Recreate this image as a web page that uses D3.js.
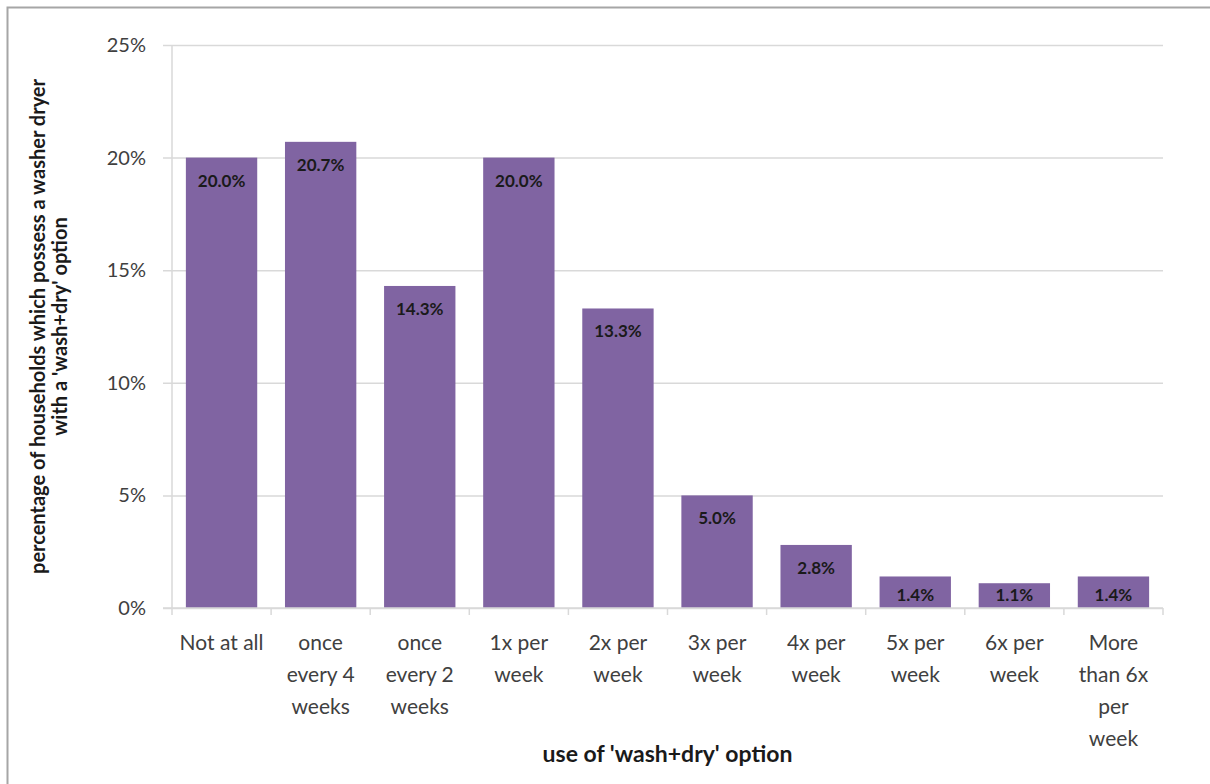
<!DOCTYPE html>
<html>
<head>
<meta charset="utf-8">
<script src="https://cdn.jsdelivr.net/npm/d3@7"></script>
<style>
  body { margin: 0; background: #fff; }
  svg { font-family: Lato, "Open Sans", sans-serif; }
</style>
</head>
<body>
<script>
// values
var categories = ["Not at all", "once every 4 weeks", "once every 2 weeks", "1x per week", "2x per week",
                  "3x per week", "4x per week", "5x per week", "6x per week", "More than 6x per week"];
var tickLines = [["Not at all"], ["once", "every 4", "weeks"], ["once", "every 2", "weeks"], ["1x per", "week"],
                 ["2x per", "week"], ["3x per", "week"], ["4x per", "week"], ["5x per", "week"],
                 ["6x per", "week"], ["More", "than 6x", "per", "week"]];
var values = [20.0, 20.7, 14.3, 20.0, 13.3, 5.0, 2.8, 1.4, 1.1, 1.4];
var yTicks = [0, 5, 10, 15, 20, 25];

var W = 1210, H = 784;
var margin = {top: 45, left: 172, right: 47, bottom: 176};
var width = W - margin.left - margin.right,
    height = H - margin.top - margin.bottom;

var svg = d3.select("body").append("svg")
    .attr("width", W)
    .attr("height", H);

// frame edges (the chart is cropped on the right and bottom)
svg.append("path")
    .attr("d", "M7.5,784 V7.5 H1210")
    .attr("fill", "none")
    .attr("stroke", "#a6a6a6")
    .attr("stroke-width", 2);

var g = svg.append("g")
    .attr("transform", `translate(${margin.left}, ${margin.top})`);

var x = d3.scaleBand().domain(categories).range([0, width]).paddingInner(0.28).paddingOuter(0.14);
var y = d3.scaleLinear().domain([0, 25]).range([height, 0]);

// gridlines + y labels
var yAxis = d3.axisLeft(y).tickValues(yTicks).tickSize(-width - 9).tickFormat(d => d + "%").tickPadding(17);
var gy = g.append("g")
    .attr("transform", "translate(-9,0)")
    .call(yAxis);
gy.select(".domain").remove();
gy.selectAll(".tick line").attr("stroke", "#d9d9d9").attr("stroke-width", 1.5);
gy.selectAll(".tick text")
    .attr("font-size", 20)
    .attr("fill", "#404040")
    .attr("font-family", "Lato, sans-serif");

// y axis line
g.append("line")
    .attr("x1", 0).attr("x2", 0)
    .attr("y1", 0).attr("y2", height)
    .attr("stroke", "#d9d9d9").attr("stroke-width", 1.5);

// bars
var bars = g.append("g").selectAll("g")
    .data(values)
    .enter().append("g");

bars.append("rect")
    .attr("x", (d, i) => x(categories[i]))
    .attr("y", d => y(d))
    .attr("width", x.bandwidth())
    .attr("height", d => height - y(d))
    .attr("fill", "#8064a2");

bars.append("text")
    .text(d => d.toFixed(1) + "%")
    .attr("x", (d, i) => x(categories[i]) + x.bandwidth() / 2)
    .attr("y", d => Math.min(y(d) + 23, height - 13))
    .attr("dy", "0.35em")
    .attr("text-anchor", "middle")
    .attr("font-size", 17)
    .attr("font-weight", "bold")
    .attr("fill", "#1a1a1a");

// x axis line and ticks at band edges
var step = x.step();
g.append("line")
    .attr("x1", -9).attr("x2", width)
    .attr("y1", height).attr("y2", height)
    .attr("stroke", "#d9d9d9").attr("stroke-width", 1.5);
g.append("g").selectAll("line")
    .data(d3.range(categories.length + 1))
    .enter().append("line")
    .attr("x1", i => Math.min(i * step, width)).attr("x2", i => Math.min(i * step, width))
    .attr("y1", height).attr("y2", height + 7)
    .attr("stroke", "#d9d9d9").attr("stroke-width", 1.5);

// category labels
var labels = g.append("g").selectAll("text")
    .data(tickLines)
    .enter().append("text")
    .attr("text-anchor", "middle")
    .attr("font-size", 21)
    .attr("fill", "#404040")
    .attr("transform", (d, i) => `translate(${x(categories[i]) + x.bandwidth() / 2}, ${height + 42})`);
labels.selectAll("tspan")
    .data(d => d)
    .enter().append("tspan")
    .attr("x", 0)
    .attr("y", (d, i) => i * 32)
    .text(d => d);

// axis titles
g.append("text")
    .attr("x", width / 2)
    .attr("y", height + 154)
    .attr("text-anchor", "middle")
    .attr("font-size", 23)
    .attr("font-weight", "bold")
    .attr("fill", "#1a1a1a")
    .text("use of 'wash+dry' option");

var yt = g.append("text")
    .attr("transform", `translate(${-127}, ${height / 2}) rotate(-90)`)
    .attr("text-anchor", "middle")
    .attr("font-size", 20)
    .attr("font-weight", "bold")
    .attr("fill", "#1a1a1a");
yt.append("tspan").attr("x", 0).attr("y", 0).text("percentage of households which possess a washer dryer");
yt.append("tspan").attr("x", 0).attr("y", 22).text("with a 'wash+dry' option");
</script>
</body>
</html>
